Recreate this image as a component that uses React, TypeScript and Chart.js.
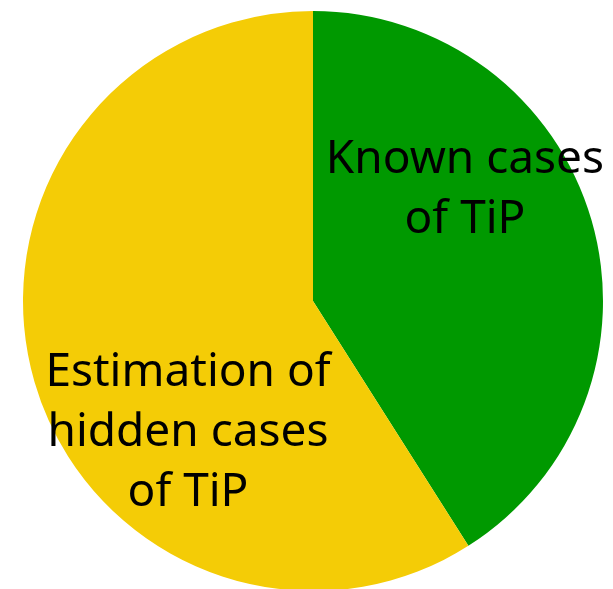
import React, { useEffect, useRef } from "react";
import { Chart, registerables } from "chart.js";

Chart.register(...registerables);

const categories: string[] = ["Known cases of TiP", "Estimation of hidden cases of TiP"];
const values: number[] = [41, 59];
const colors: string[] = ["#009900", "#F4CC06"];
const labelLines: string[][] = [
  ["Known cases", "of TiP"],
  ["Estimation of", "hidden cases", "of TiP"],
];

// label anchor offsets as fractions of the radius (x of line centre, y of first baseline)
const labelAnchors = [
  { dx: 0.524, dy: -0.441 },
  { dx: -0.431, dy: 0.293 },
];

const FONT_SIZE = 46;
const LINE_H = 60;
const FONT = `${FONT_SIZE}px "Noto Sans", sans-serif`;

const labelPlugin = {
  id: "sliceLabels",
  afterDatasetsDraw(chart: any) {
    const meta = chart.getDatasetMeta(0);
    const ctx = chart.ctx;
    ctx.save();
    ctx.fillStyle = "#000";
    ctx.font = FONT;
    ctx.textAlign = "center";
    ctx.textBaseline = "alphabetic";
    meta.data.forEach((arc: any, i: number) => {
      const r = arc.outerRadius;
      const a = labelAnchors[i];
      const x = arc.x + a.dx * r;
      const y0 = arc.y + a.dy * r;
      labelLines[i].forEach((line, j) => {
        ctx.fillText(line, x, y0 + j * LINE_H);
      });
    });
    ctx.restore();
  },
};

export default function App() {
  const ref = useRef<HTMLCanvasElement | null>(null);
  useEffect(() => {
    if (!ref.current) return;
    const chart = new Chart(ref.current, {
      type: "pie",
      data: {
        labels: categories,
        datasets: [
          {
            data: values,
            backgroundColor: colors,
            borderWidth: 0,
          },
        ],
      },
      options: {
        responsive: false,
        animation: false,
        layout: { padding: { top: 11, left: 23, right: 10, bottom: 9 } },
        plugins: {
          legend: { display: false },
          tooltip: { enabled: false },
        },
      },
      plugins: [labelPlugin],
    });
    return () => chart.destroy();
  }, []);
  return (
    <div style={{ position: "fixed", left: 0, top: 0, width: 613, height: 589, overflow: "hidden", background: "#fff" }}>
      <canvas ref={ref} width={613} height={600} style={{ display: "block" }} />
    </div>
  );
}
